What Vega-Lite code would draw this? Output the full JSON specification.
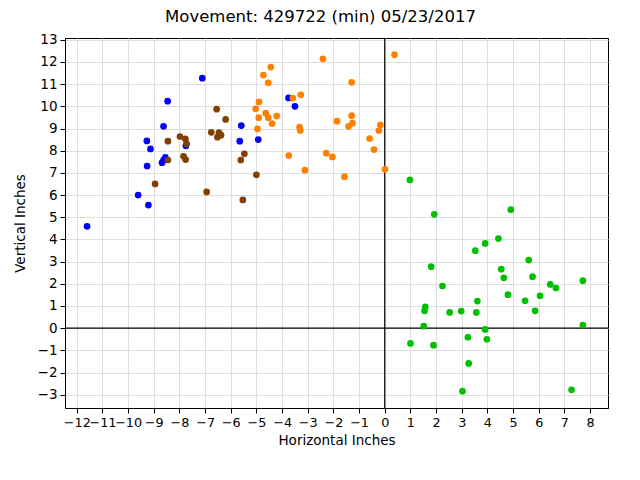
{
  "$schema": "https://vega.github.io/schema/vega-lite/v6.json",
  "width": 543,
  "height": 370,
  "autosize": {"type": "none"},
  "padding": {"left": 65, "top": 38, "right": 32, "bottom": 72},
  "background": "white",
  "title": {"text": "Movement: 429722 (min) 05/23/2017", "font": "DejaVu Sans", "fontSize": 16.5, "fontWeight": "normal", "color": "black", "anchor": "middle", "dx": -16, "offset": 7},
  "config": {
    "view": {"stroke": "black", "strokeWidth": 1},
    "axis": {"grid": true, "domainColor": "black", "tickColor": "black", "tickSize": 5, "labelFont": "DejaVu Sans", "labelFontSize": 13.5, "labelColor": "black", "titleFont": "DejaVu Sans", "titleFontSize": 13.5, "titleFontWeight": "normal", "titleColor": "black", "gridColor": "#dddddd", "gridWidth": 1, "labelPadding": 3, "labelOverlap": false, "labelFlush": false},
    "axisX": {"labelFontSize": 12.8}
  },
  "data": {"values": [
    {"h": -11.6, "v": 4.59, "s": "A"},
    {"h": -7.11, "v": 11.27, "s": "A"},
    {"h": -8.46, "v": 10.23, "s": "A"},
    {"h": -8.62, "v": 9.10, "s": "A"},
    {"h": -9.27, "v": 8.44, "s": "A"},
    {"h": -9.13, "v": 8.08, "s": "A"},
    {"h": -7.75, "v": 8.22, "s": "A"},
    {"h": -8.55, "v": 7.70, "s": "A"},
    {"h": -8.62, "v": 7.58, "s": "A"},
    {"h": -8.68, "v": 7.46, "s": "A"},
    {"h": -9.26, "v": 7.31, "s": "A"},
    {"h": -9.61, "v": 6.00, "s": "A"},
    {"h": -9.21, "v": 5.55, "s": "A"},
    {"h": -5.59, "v": 9.13, "s": "A"},
    {"h": -5.65, "v": 8.43, "s": "A"},
    {"h": -4.93, "v": 8.50, "s": "A"},
    {"h": -3.75, "v": 10.38, "s": "A"},
    {"h": -3.50, "v": 10.00, "s": "A"},
    {"h": -6.55, "v": 9.87, "s": "B"},
    {"h": -6.20, "v": 9.41, "s": "B"},
    {"h": -6.76, "v": 8.83, "s": "B"},
    {"h": -6.46, "v": 8.82, "s": "B"},
    {"h": -6.38, "v": 8.70, "s": "B"},
    {"h": -6.52, "v": 8.61, "s": "B"},
    {"h": -7.98, "v": 8.64, "s": "B"},
    {"h": -7.77, "v": 8.53, "s": "B"},
    {"h": -7.72, "v": 8.31, "s": "B"},
    {"h": -8.45, "v": 8.43, "s": "B"},
    {"h": -7.84, "v": 7.75, "s": "B"},
    {"h": -7.76, "v": 7.60, "s": "B"},
    {"h": -8.45, "v": 7.58, "s": "B"},
    {"h": -8.95, "v": 6.50, "s": "B"},
    {"h": -6.94, "v": 6.14, "s": "B"},
    {"h": -5.47, "v": 7.86, "s": "B"},
    {"h": -5.61, "v": 7.58, "s": "B"},
    {"h": -5.00, "v": 6.91, "s": "B"},
    {"h": -5.53, "v": 5.78, "s": "B"},
    {"h": -2.41, "v": 12.14, "s": "C"},
    {"h": 0.38, "v": 12.33, "s": "C"},
    {"h": -4.44, "v": 11.77, "s": "C"},
    {"h": -4.73, "v": 11.41, "s": "C"},
    {"h": -4.54, "v": 11.06, "s": "C"},
    {"h": -1.29, "v": 11.08, "s": "C"},
    {"h": -3.27, "v": 10.52, "s": "C"},
    {"h": -3.58, "v": 10.37, "s": "C"},
    {"h": -4.90, "v": 10.20, "s": "C"},
    {"h": -5.03, "v": 9.89, "s": "C"},
    {"h": -4.64, "v": 9.69, "s": "C"},
    {"h": -4.54, "v": 9.49, "s": "C"},
    {"h": -4.91, "v": 9.49, "s": "C"},
    {"h": -4.21, "v": 9.56, "s": "C"},
    {"h": -4.39, "v": 9.22, "s": "C"},
    {"h": -4.96, "v": 8.98, "s": "C"},
    {"h": -1.29, "v": 9.58, "s": "C"},
    {"h": -1.86, "v": 9.33, "s": "C"},
    {"h": -1.26, "v": 9.24, "s": "C"},
    {"h": -1.41, "v": 9.10, "s": "C"},
    {"h": -3.32, "v": 9.06, "s": "C"},
    {"h": -3.29, "v": 8.91, "s": "C"},
    {"h": -0.17, "v": 9.16, "s": "C"},
    {"h": -0.23, "v": 8.91, "s": "C"},
    {"h": -0.59, "v": 8.55, "s": "C"},
    {"h": -0.42, "v": 8.05, "s": "C"},
    {"h": -3.74, "v": 7.78, "s": "C"},
    {"h": -2.28, "v": 7.89, "s": "C"},
    {"h": -2.04, "v": 7.72, "s": "C"},
    {"h": -3.11, "v": 7.12, "s": "C"},
    {"h": -1.57, "v": 6.83, "s": "C"},
    {"h": 0.01, "v": 7.16, "s": "C"},
    {"h": 0.98, "v": 6.68, "s": "D"},
    {"h": 1.93, "v": 5.13, "s": "D"},
    {"h": 4.91, "v": 5.34, "s": "D"},
    {"h": 4.43, "v": 4.04, "s": "D"},
    {"h": 3.91, "v": 3.82, "s": "D"},
    {"h": 3.53, "v": 3.49, "s": "D"},
    {"h": 5.61, "v": 3.07, "s": "D"},
    {"h": 1.81, "v": 2.77, "s": "D"},
    {"h": 4.54, "v": 2.66, "s": "D"},
    {"h": 4.64, "v": 2.27, "s": "D"},
    {"h": 5.76, "v": 2.32, "s": "D"},
    {"h": 7.72, "v": 2.14, "s": "D"},
    {"h": 2.25, "v": 1.90, "s": "D"},
    {"h": 6.45, "v": 1.97, "s": "D"},
    {"h": 6.67, "v": 1.81, "s": "D"},
    {"h": 4.80, "v": 1.51, "s": "D"},
    {"h": 6.05, "v": 1.46, "s": "D"},
    {"h": 5.47, "v": 1.23, "s": "D"},
    {"h": 3.61, "v": 1.22, "s": "D"},
    {"h": 1.58, "v": 0.96, "s": "D"},
    {"h": 1.55, "v": 0.78, "s": "D"},
    {"h": 2.53, "v": 0.71, "s": "D"},
    {"h": 2.98, "v": 0.77, "s": "D"},
    {"h": 3.57, "v": 0.71, "s": "D"},
    {"h": 5.86, "v": 0.78, "s": "D"},
    {"h": 1.52, "v": 0.09, "s": "D"},
    {"h": 7.72, "v": 0.14, "s": "D"},
    {"h": 3.91, "v": -0.06, "s": "D"},
    {"h": 1.00, "v": -0.69, "s": "D"},
    {"h": 1.90, "v": -0.77, "s": "D"},
    {"h": 3.24, "v": -0.41, "s": "D"},
    {"h": 3.98, "v": -0.50, "s": "D"},
    {"h": 3.27, "v": -1.59, "s": "D"},
    {"h": 3.03, "v": -2.84, "s": "D"},
    {"h": 7.28, "v": -2.78, "s": "D"}
  ]},
  "layer": [
    {
      "data": {"values": [{}]},
      "mark": {"type": "rule", "color": "black", "strokeWidth": 1.2},
      "encoding": {
        "x": {"datum": 0, "type": "quantitative", "title": "Horizontal Inches",
              "scale": {"domain": [-12.46, 8.7], "nice": false, "zero": false},
              "axis": {"grid": true, "values": [-12,-11,-10,-9,-8,-7,-6,-5,-4,-3,-2,-1,0,1,2,3,4,5,6,7,8], "titlePadding": 5}}
      }
    },
    {
      "data": {"values": [{}]},
      "mark": {"type": "rule", "color": "black", "strokeWidth": 1.2},
      "encoding": {
        "y": {"datum": 0, "type": "quantitative", "title": "Vertical Inches",
              "scale": {"domain": [-3.6, 13.08], "nice": false, "zero": false},
              "axis": {"grid": true, "values": [-3,-2,-1,0,1,2,3,4,5,6,7,8,9,10,11,12,13], "titlePadding": 10}}
      }
    },
    {
      "mark": {"type": "circle", "opacity": 1, "size": 45},
      "encoding": {
        "x": {"field": "h", "type": "quantitative", "title": "Horizontal Inches",
              "scale": {"domain": [-12.46, 8.7], "nice": false, "zero": false},
              "axis": {"grid": true, "values": [-12,-11,-10,-9,-8,-7,-6,-5,-4,-3,-2,-1,0,1,2,3,4,5,6,7,8], "titlePadding": 5}},
        "y": {"field": "v", "type": "quantitative", "title": "Vertical Inches",
              "scale": {"domain": [-3.6, 13.08], "nice": false, "zero": false},
              "axis": {"grid": true, "values": [-3,-2,-1,0,1,2,3,4,5,6,7,8,9,10,11,12,13], "titlePadding": 10}},
        "color": {"field": "s", "type": "nominal", "legend": null,
                  "scale": {"domain": ["A", "B", "C", "D"], "range": ["#0000ff", "#804000", "#ff8000", "#00c000"]}}
      }
    }
  ]
}
